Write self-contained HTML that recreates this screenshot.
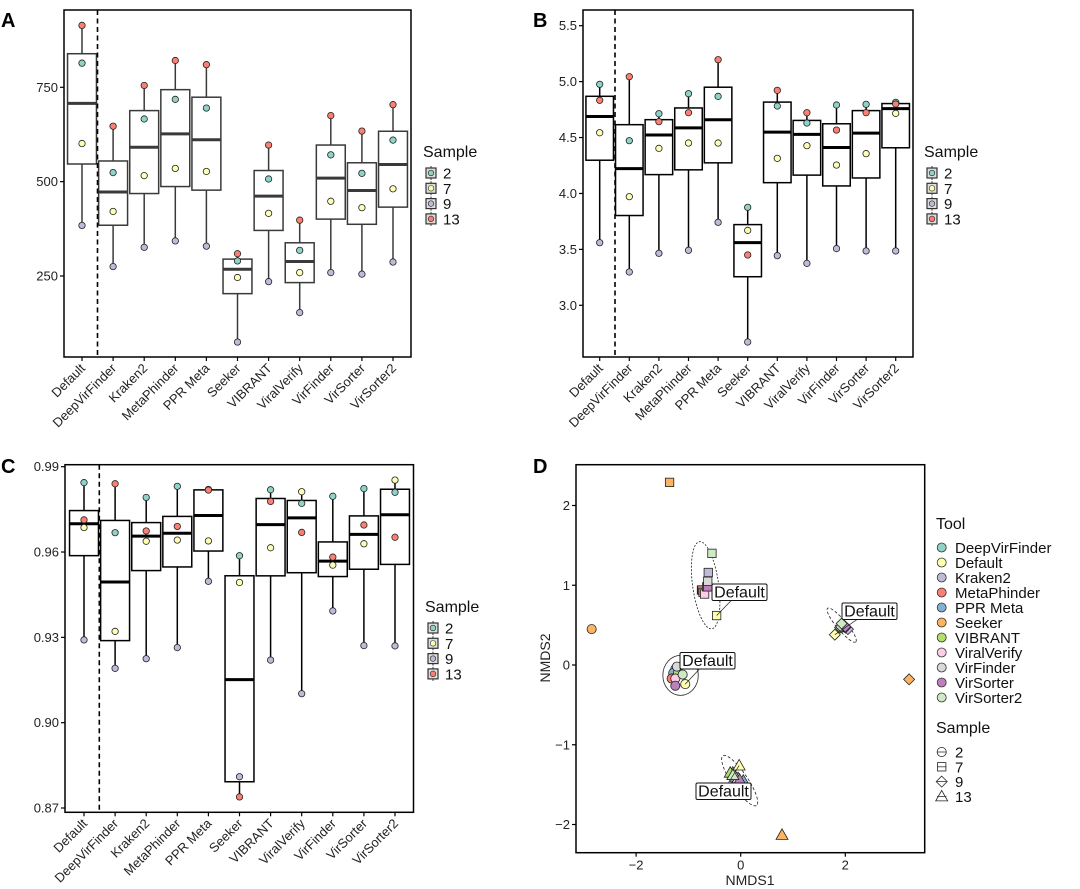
<!DOCTYPE html>
<html><head><meta charset="utf-8">
<style>
html,body{margin:0;padding:0;background:#fff;}
svg{display:block;font-family:"Liberation Sans",Arial,sans-serif;}
</style></head>
<body>
<svg id="fig" width="1080" height="889" viewBox="0 0 1080 889" xmlns="http://www.w3.org/2000/svg">
<rect width="1080" height="889" fill="#fff"/>
<text x="1" y="27" font-size="20" font-weight="bold">A</text>
<text x="533" y="27" font-size="20" font-weight="bold">B</text>
<text x="1" y="473" font-size="20" font-weight="bold">C</text>
<text x="533" y="473" font-size="20" font-weight="bold">D</text>
</svg>
<script>
const tools = ["Default","DeepVirFinder","Kraken2","MetaPhinder","PPR Meta","Seeker","VIBRANT","ViralVerify","VirFinder","VirSorter","VirSorter2"];
const sampleNames = ["2","7","9","13"];
const sampleColors = ["#8dd3c7","#ffffb3","#bebada","#fb8072"];

// Panel A values per sample
const aS2  = [814,524,666,718,695,290,507,318,571,522,610];
const aS7  = [601,421,516,535,527,246,416,259,448,431,481];
const aS9  = [384,275,326,343,329,75,235,153,259,255,287];
const aS13 = [914,647,755,821,810,309,597,398,675,634,704];
const aTicks = [250,500,750];
const aTickLabels = ["250","500","750"];

// Panel B values per sample
const bS2  = [4.976,4.472,4.713,4.892,4.868,3.876,4.782,4.630,4.791,4.797,4.815];
const bS7  = [4.543,3.971,4.403,4.451,4.451,3.670,4.314,4.427,4.254,4.356,4.716];
const bS9  = [3.560,3.298,3.465,3.492,3.742,2.672,3.444,3.375,3.507,3.486,3.486];
const bS13 = [4.833,5.044,4.642,4.722,5.196,3.450,4.922,4.722,4.567,4.722,4.800];
const bTicks = [3.0,3.5,4.0,4.5,5.0,5.5];
const bTickLabels = ["3.0","3.5","4.0","4.5","5.0","5.5"];

// Panel C values per sample
const cS2  = [0.9844,0.9668,0.9792,0.9831,0.9820,0.9587,0.9819,0.9771,0.9796,0.9823,0.9810];
const cS7  = [0.9686,0.9321,0.9638,0.9642,0.9639,0.9493,0.9615,0.9812,0.9554,0.9629,0.9853];
const cS9  = [0.9291,0.9191,0.9225,0.9264,0.9497,0.8810,0.9220,0.9102,0.9393,0.9271,0.9270];
const cS13 = [0.9713,0.9840,0.9674,0.9690,0.9818,0.8739,0.9778,0.9669,0.9582,0.9695,0.9652];
const cTicks = [0.87,0.90,0.93,0.96,0.99];
const cTickLabels = ["0.87","0.90","0.93","0.96","0.99"];

// Panel D (NMDS)
const dToolNames = ["DeepVirFinder","Default","Kraken2","MetaPhinder","PPR Meta","Seeker","VIBRANT","ViralVerify","VirFinder","VirSorter","VirSorter2"];
const dToolColors = ["#8dd3c7","#ffffb3","#bebada","#fb8072","#80b1d3","#fdb462","#b3de69","#fccde5","#d9d9d9","#bc80bd","#ccebc5"];
const dPointTool   = [0,2,4,6,3,7,8,9,10,1,5, 0,3,4,7,6,9,8,2,10,1,5, 0,2,3,4,6,7,8,9,10,1,5, 0,2,3,4,6,7,8,9,10,1,5];
const dPointSample = [0,0,0,0,0,0,0,0,0,0,0, 1,1,1,1,1,1,1,1,1,1,1, 2,2,2,2,2,2,2,2,2,2,2, 3,3,3,3,3,3,3,3,3,3,3];
const dPointX = [-1.22,-1.25,-1.29,-1.20,-1.32,-1.25,-1.22,-1.25,-1.11,-1.06,-2.85,
                 -0.75,-0.74,-0.72,-0.69,-0.65,-0.63,-0.63,-0.62,-0.55,-0.46,-1.36,
                 1.95,2.05,1.95,2.00,1.90,1.97,1.92,2.00,1.93,1.80,3.22,
                 -0.15,-0.10,-0.05,0.05,-0.20,-0.05,-0.12,-0.02,-0.15,-0.03,0.79];
const dPointY = [-0.06,-0.05,-0.10,-0.10,-0.17,-0.17,-0.02,-0.26,-0.12,-0.24,0.45,
                 0.94,0.94,0.91,0.89,0.98,0.98,1.05,1.16,1.40,0.62,2.29,
                 0.50,0.45,0.48,0.47,0.47,0.50,0.48,0.48,0.52,0.38,-0.18,
                 -1.35,-1.40,-1.42,-1.45,-1.35,-1.42,-1.38,-1.44,-1.38,-1.26,-2.13];
const dTicksX = [-2,0,2];
const dTicksY = [-2,-1,0,1,2];
const dTickLabelsX = ["\u22122","0","2"];
const dTickLabelsY = ["\u22122","\u22121","0","1","2"];

const NS = "http://www.w3.org/2000/svg";
const svg = document.getElementById("fig");
function mk(tag, attrs, parent){
  const e = document.createElementNS(NS, tag);
  for (const k in attrs) e.setAttribute(k, attrs[k]);
  (parent||svg).appendChild(e);
  return e;
}
function quant(sorted, p){
  const h = (sorted.length-1)*p, lo = Math.floor(h), hi = Math.ceil(h);
  return sorted[lo] + (h-lo)*(sorted[hi]-sorted[lo]);
}

function boxPanel(cfg){
  const g = mk("g", {});
  
  
  const yS = v => cfg.py0 + (v - cfg.v0) * (cfg.py1 - cfg.py0) / (cfg.v1 - cfg.v0);
  const xS = i => cfg.cx0 + i * cfg.step;
  const bw = cfg.step * 0.93;
  const fr = mk("rect", {x:cfg.L, y:cfg.T, width:cfg.R-cfg.L, height:cfg.B-cfg.T, fill:"none", stroke:"#000", "stroke-width":1.5}, g);
  
  
  cfg.ticks.forEach((t,i)=>{
    const y = yS(t);
    const tk = mk("line", {x1:cfg.L-4, x2:cfg.L, y1:y, y2:y, stroke:"#000", "stroke-width":1.2}, g);
    
    
    const tl = mk("text", {x:cfg.L-6, y:y+4.5, "text-anchor":"end", "font-size":13, fill:"#222"}, g);
    tl.textContent = cfg.tickLabels[i];
    
    
  });
  const series = cfg.series;
  tools.forEach((tool, i)=>{
    const cx = xS(i);
    const vals = series.map(s=>s[i]);
    const s = vals.slice().sort((a,b)=>a-b);
    const q1 = quant(s,0.25), med = quant(s,0.5), q3 = quant(s,0.75);
    const lo = s[0];
    const hi = s[s.length-1];
    const wl = mk("line", {x1:cx, x2:cx, y1:yS(hi), y2:yS(q3), stroke:cfg.stroke, "stroke-width":1.5}, g);
    
    
    const wl2 = mk("line", {x1:cx, x2:cx, y1:yS(q1), y2:yS(lo), stroke:cfg.stroke, "stroke-width":1.5}, g);
    
    
    const bx = mk("rect", {x:cx-bw/2, y:yS(q3), width:bw, height:yS(q1)-yS(q3), fill:"#fff", stroke:cfg.stroke, "stroke-width":1.5}, g);
    
    
    const md = mk("line", {x1:cx-bw/2, x2:cx+bw/2, y1:yS(med), y2:yS(med), stroke:cfg.stroke, "stroke-width":3}, g);
    
    
    const xt = mk("line", {x1:cx, x2:cx, y1:cfg.B, y2:cfg.B+4, stroke:"#000", "stroke-width":1.2}, g);
    
    
    const lx = cx+4, ly = cfg.B+12;
    const xl = mk("text", {x:lx, y:ly, "text-anchor":"end", "font-size":13, fill:"#222", transform:`rotate(-45 ${lx} ${ly})`}, g);
    xl.textContent = tool;
    
    
  });
  const dl = mk("line", {x1:cfg.dash, x2:cfg.dash, y1:cfg.T, y2:cfg.B, stroke:"#000", "stroke-width":1.6, "stroke-dasharray":"5,3.5"}, g);
  
  
  tools.forEach((tool, i)=>{
    series.forEach((ser, k)=>{
      const p = mk("circle", {cx:xS(i), cy:yS(ser[i]), r:3.2, fill:sampleColors[k], stroke:"#222", "stroke-width":0.8}, g);
      
      
    });
  });
  const lt = mk("text", {x:cfg.legX, y:cfg.legY, "font-size":16, fill:"#111"}, g);
  lt.textContent = "Sample";
  
  
  sampleNames.forEach((nm,k)=>{
    const y = cfg.legY + 16 + k*15.3;
    const kg = mk("g", {}, g);
    
    
    mk("line", {x1:cfg.legX+8, x2:cfg.legX+8, y1:y-7, y2:y+7, stroke:"#333", "stroke-width":1}, kg);
    mk("rect", {x:cfg.legX+3, y:y-5, width:10, height:10, fill:"#ddd", stroke:"#333", "stroke-width":1.2}, kg);
    mk("circle", {cx:cfg.legX+8, cy:y, r:2.8, fill:sampleColors[k], stroke:"#222", "stroke-width":0.6}, kg);
    const t = mk("text", {x:cfg.legX+20, y:y+5.5, "font-size":15, fill:"#111"}, kg);
    t.textContent = nm;
  });
}

boxPanel({name:"panel-a", series:[aS2,aS7,aS9,aS13], ticks:aTicks, tickLabels:aTickLabels,
  L:64, R:411, T:10, B:357, v0:250, py0:276, v1:750, py1:87.3, cx0:82, step:31.1, dash:97.5,
  stroke:"#3a3a3a", legX:423, legY:157});
boxPanel({name:"panel-b", series:[bS2,bS7,bS9,bS13], ticks:bTicks, tickLabels:bTickLabels,
  L:583, R:913, T:10, B:357, v0:3.0, py0:305.3, v1:5.5, py1:25.7, cx0:599.7, step:29.6, dash:615,
  stroke:"#000", legX:924, legY:157});
boxPanel({name:"panel-c", series:[cS2,cS7,cS9,cS13], ticks:cTicks, tickLabels:cTickLabels,
  L:65, R:413.5, T:464.7, B:812.3, v0:0.87, py0:808, v1:0.99, py1:466.7, cx0:84, step:31.1, dash:99.3,
  stroke:"#000", legX:425, legY:612});

(function(){
  const g = mk("g", {});
  
  
  const L=576, R=924.7, T=464.7, B=852.7;
  const xS = v => 740.7 + v*52.3;
  const yS = v => 665 - v*79.75;
  const fr = mk("rect", {x:L, y:T, width:R-L, height:B-T, fill:"none", stroke:"#000", "stroke-width":1.5}, g);
  
  
  dTicksX.forEach((t,i)=>{
    const x = xS(t);
    const tk = mk("line", {x1:x, x2:x, y1:B, y2:B+4, stroke:"#000", "stroke-width":1.2}, g);
    
    
    const tl = mk("text", {x:x, y:B+17, "text-anchor":"middle", "font-size":13, fill:"#222"}, g);
    tl.textContent = dTickLabelsX[i];
    
    
  });
  dTicksY.forEach((t,i)=>{
    const y = yS(t);
    const tk = mk("line", {x1:L-4, x2:L, y1:y, y2:y, stroke:"#000", "stroke-width":1.2}, g);
    
    
    const tl = mk("text", {x:L-6, y:y+4.5, "text-anchor":"end", "font-size":13, fill:"#222"}, g);
    tl.textContent = dTickLabelsY[i];
    
    
  });
  const xt = mk("text", {x:750, y:885, "text-anchor":"middle", "font-size":14, fill:"#222"}, g);
  xt.textContent = "NMDS1";
  
  
  const yt = mk("text", {x:550, y:658, "text-anchor":"middle", "font-size":14, fill:"#222", transform:"rotate(-90 550 658)"}, g);
  yt.textContent = "NMDS2";
  
  

  const ells = [
    {cx:-1.15, cy:-0.13, rx:17.7, ry:20, rot:0, dash:null},
    {cx:-0.67, cy:1.0, rx:13, ry:44, rot:-8, dash:"2,1.5"},
    {cx:1.93, cy:0.5, rx:22, ry:5, rot:50, dash:"3,2"},
    {cx:-0.02, cy:-1.45, rx:30, ry:8, rot:56, dash:"3,2"}
  ];
  ells.forEach(e=>{
    const x = xS(e.cx), y = yS(e.cy);
    const a = {cx:x, cy:y, rx:e.rx, ry:e.ry, fill:"none", stroke:"#222", "stroke-width":0.8, transform:`rotate(${e.rot} ${x} ${y})`};
    if (e.dash) a["stroke-dasharray"] = e.dash;
    const el = mk("ellipse", a, g);
    
    
  });

  function shape(sample, x, y, fill, parent){
    const st = {fill:fill, stroke:"#222", "stroke-width":0.8};
    if (sample===0) return mk("circle", Object.assign({cx:x, cy:y, r:4.6}, st), parent);
    if (sample===1) return mk("rect", Object.assign({x:x-4.2, y:y-4.2, width:8.4, height:8.4}, st), parent);
    if (sample===2) return mk("polygon", Object.assign({points:`${x},${y-5.5} ${x+5.5},${y} ${x},${y+5.5} ${x-5.5},${y}`}, st), parent);
    return mk("polygon", Object.assign({points:`${x},${y-6} ${x+6},${y+4.5} ${x-6},${y+4.5}`}, st), parent);
  }
  dPointX.forEach((vx,i)=>{
    const p = shape(dPointSample[i], xS(vx), yS(dPointY[i]), dToolColors[dPointTool[i]], g);
    
    
  });

  const labels = [
    {px:-0.46, py:0.62, lx:712, ly:584, w:55},
    {px:1.80, py:0.38, lx:842, ly:603, w:55},
    {px:-1.06, py:-0.24, lx:680, ly:652.5, w:55},
    {px:-0.03, py:-1.26, lx:696, ly:783, w:55}
  ];
  labels.forEach(lb=>{
    const seg = mk("line", {x1:xS(lb.px), y1:yS(lb.py), x2:lb.lx+lb.w/2, y2:lb.ly+8, stroke:"#222", "stroke-width":0.7}, g);
    
    
  });
  labels.forEach(lb=>{
    const r = mk("rect", {x:lb.lx, y:lb.ly, width:lb.w, height:16.5, rx:1.5, fill:"#fff", stroke:"#111", "stroke-width":1}, g);
    
    
    const t = mk("text", {x:lb.lx+lb.w/2, y:lb.ly+13.5, "text-anchor":"middle", "font-size":16, fill:"#111"}, g);
    t.textContent = "Default";
    
    
  });

  const tt = mk("text", {x:936, y:529, "font-size":16, fill:"#111"}, g);
  tt.textContent = "Tool";
  
  
  dToolNames.forEach((nm,k)=>{
    const y = 547.5 + k*15;
    const eg = mk("g", {}, g);
    
    
    mk("circle", {cx:941.7, cy:y, r:4.5, fill:dToolColors[k], stroke:"#333", "stroke-width":0.8}, eg);
    const t = mk("text", {x:955, y:y+5.5, "font-size":15, fill:"#111"}, eg);
    t.textContent = nm;
  });
  const st = mk("text", {x:936, y:733, "font-size":16, fill:"#111"}, g);
  st.textContent = "Sample";
  
  
  sampleNames.forEach((nm,k)=>{
    const y = 752 + k*14.8;
    const eg = mk("g", {}, g);
    
    
    shape(k, 941.7, y, "none", eg);
    mk("line", {x1:937, x2:946.4, y1:y, y2:y, stroke:"#333", "stroke-width":0.8}, eg);
    const t = mk("text", {x:955, y:y+5.5, "font-size":15, fill:"#111"}, eg);
    t.textContent = nm;
  });
})();
</script>
</body></html>
